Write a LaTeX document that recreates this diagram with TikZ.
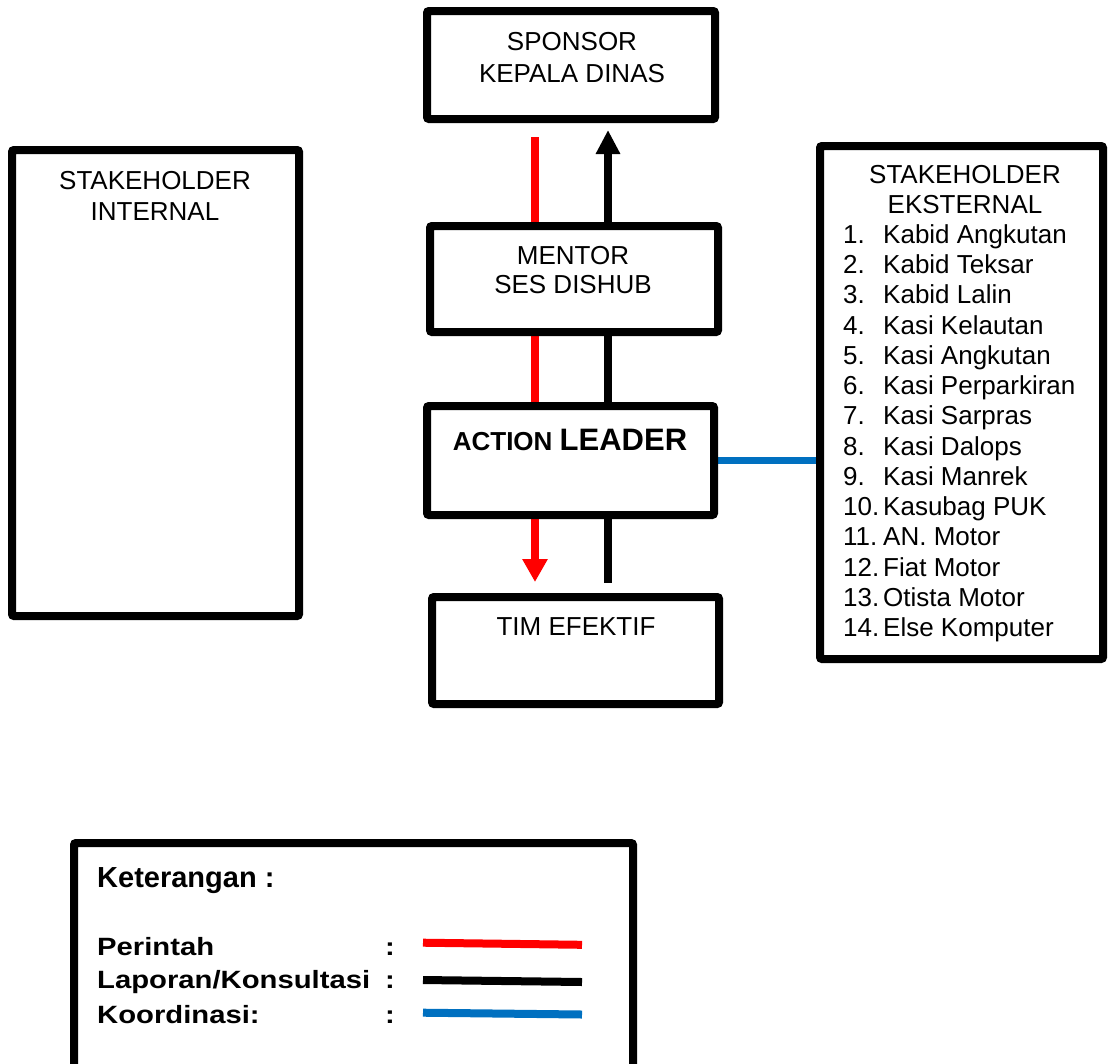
\documentclass[tikz,border=0pt]{standalone}
\usepackage{fontspec}
\setmainfont{Liberation Sans}
\newfontfamily\legfont[FakeStretch=1.17]{Liberation Sans}
\usetikzlibrary{arrows.meta,backgrounds}
\definecolor{cred}{RGB}{255,0,0}
\definecolor{cblue}{RGB}{0,112,192}
\begin{document}
\begin{tikzpicture}[x=1pt,y=-1pt,
  box/.style={draw=black,line width=8pt,rounded corners=2pt,inner sep=0pt,outer sep=0pt,fill=white},
  txt/.style={anchor=base,inner sep=0pt,font=\fontsize{26}{31}\selectfont},
  ltxt/.style={anchor=base west,inner sep=0pt,font=\fontsize{26}{31}\selectfont},
  legtxt/.style={anchor=base west,inner sep=0pt,font={\legfont\bfseries\fontsize{25}{30}\selectfont}},
  conn/.style={line width=7.5pt},
  legline/.style={line width=8pt}]
\useasboundingbox (0,0) rectangle (1108,1063);
\clip (0,0) rectangle (1108,1063);

% boxes
\node[box,minimum width=288pt,minimum height=108pt] (sponsor) at (571,65) {};
\node[box,minimum width=288pt,minimum height=106pt] (mentor) at (574,279) {};
\node[box,minimum width=287pt,minimum height=109pt] (leader) at (570.5,460.5) {};
\node[box,minimum width=287pt,minimum height=107pt] (tim) at (575.5,650.5) {};
\node[box,minimum width=287pt,minimum height=466pt] (internal) at (155.5,383) {};
\node[box,minimum width=283pt,minimum height=513pt] (external) at (961.5,402.5) {};
\node[box,minimum width=559pt,minimum height=260pt] (legend) at (353.5,973) {};

% texts
\node[txt] (sp1) at (572,50) {SPONSOR};
\node[txt] (sp2) at (572,82) {KEPALA DINAS};
\node[txt] (me1) at (573,264) {MENTOR};
\node[txt] (me2) at (573,293) {SES DISHUB};
\node[txt] (le1) at (570,450) {{\fontsize{26}{31}\selectfont\bfseries ACTION} {\fontsize{31}{36}\selectfont\bfseries LEADER}};
\node[txt] (ti1) at (576,635) {TIM EFEKTIF};
\node[txt] (in1) at (155,189) {STAKEHOLDER};
\node[txt] (in2) at (155,220) {INTERNAL};
\node[txt] (ex1) at (965,183) {STAKEHOLDER};
\node[txt] (ex2) at (965,213) {EKSTERNAL};
\foreach \t [count=\k] in {Kabid Angkutan,Kabid Teksar,Kabid Lalin,Kasi Kelautan,Kasi Angkutan,Kasi Perparkiran,Kasi Sarpras,Kasi Dalops,Kasi Manrek,Kasubag PUK,AN. Motor,Fiat Motor,Otista Motor,Else Komputer}{
  \node[ltxt] (num\k) at (843,{243.3+30.26*(\k-1)}) {\k.};
  \node[ltxt] (item\k) at (883,{243.3+30.26*(\k-1)}) {\t};
}

% legend
\node[anchor=base west,inner sep=0pt,font={\bfseries\fontsize{29}{34}\selectfont}] (ket) at (97,887) {Keterangan :};
\node[legtxt] (lg1) at (97,955) {Perintah};
\node[legtxt] (lg2) at (97,988) {Laporan/Konsultasi};
\node[legtxt] (lg3) at (97,1023) {Koordinasi:};
\node[legtxt] (c1) at (385,955) {:};
\node[legtxt] (c2) at (385,988) {:};
\node[legtxt] (c3) at (385,1023) {:};
\coordinate (r1) at (423,942.7); \coordinate (r2) at (582,944.8);
\coordinate (k1) at (423,980); \coordinate (k2) at (582,982);
\coordinate (b1) at (423,1012.7); \coordinate (b2) at (582,1014.5);
\draw[legline,cred] (r1) -- (r2);
\draw[legline,black] (k1) -- (k2);
\draw[legline,cblue] (b1) -- (b2);

% connectors
\coordinate (rx) at (535,0);
\coordinate (bx) at (608,0);
\coordinate (redtop) at (535,137);
\coordinate (btip) at (608,130);
\coordinate (rtip) at (535,582);
\coordinate (bbot) at (608,583);
\begin{pgfonlayer}{background}
\draw[conn,cred] (redtop) -- (mentor.north -| rx);
\draw[conn,black,-{Triangle[width=23pt,length=24pt]}] (mentor.north -| bx) -- (btip);
\draw[conn,cred] (mentor.south -| rx) -- (leader.north -| rx);
\draw[conn,black] (mentor.south -| bx) -- (leader.north -| bx);
\draw[conn,cred,-{Triangle[width=24pt,length=23pt]}] (leader.south -| rx) -- (rtip);
\draw[conn,black] (leader.south -| bx) -- (bbot);
\draw[conn,cblue] (leader.east) -- (external.west |- leader.east);
\end{pgfonlayer}
\end{tikzpicture}
\end{document}
